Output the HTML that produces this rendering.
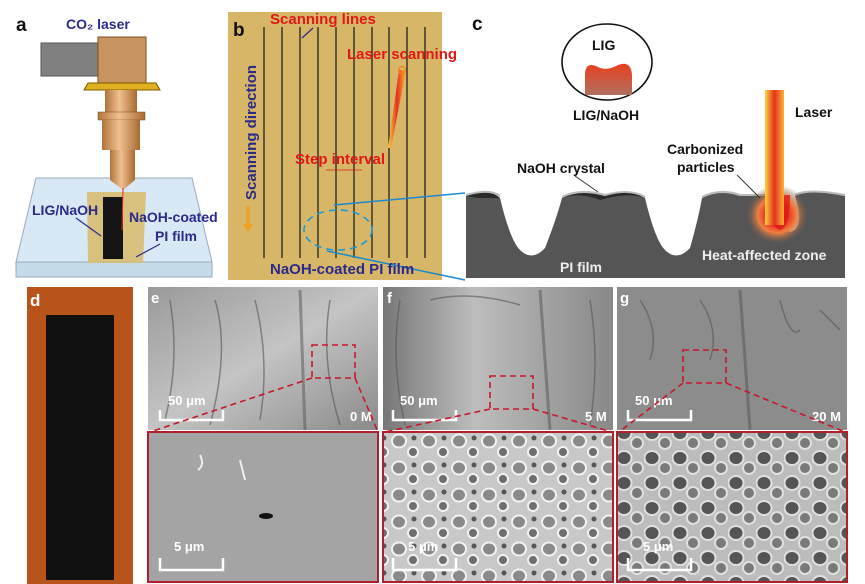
<!DOCTYPE html>
<html><head><meta charset="utf-8"><style>
body{margin:0;background:#fff;}
svg{display:block;font-family:"Liberation Sans",Arial,sans-serif;font-weight:bold}
</style></head><body>
<svg width="865" height="584" viewBox="0 0 865 584" xmlns="http://www.w3.org/2000/svg">
<defs>
<linearGradient id="cu" x1="0" x2="1"><stop offset="0" stop-color="#b0743a"/><stop offset="0.45" stop-color="#f0c090"/><stop offset="1" stop-color="#a86a30"/></linearGradient>
<linearGradient id="beam" x1="0" x2="1"><stop offset="0" stop-color="#ffd23a"/><stop offset="0.5" stop-color="#e3321e"/><stop offset="1" stop-color="#ffb030"/></linearGradient>
<linearGradient id="lig" x1="0" y1="0" x2="0" y2="1"><stop offset="0" stop-color="#e8401e"/><stop offset="1" stop-color="#b07060"/></linearGradient>
<radialGradient id="heat"><stop offset="0.3" stop-color="#e8201a"/><stop offset="0.6" stop-color="#f08040"/><stop offset="1" stop-color="#555" stop-opacity="0"/></radialGradient>
<linearGradient id="sem1" x1="0" y1="0" x2="1" y2="1"><stop offset="0" stop-color="#9a9a9a"/><stop offset="0.5" stop-color="#c4c4c4"/><stop offset="1" stop-color="#8a8a8a"/></linearGradient>
<linearGradient id="sem2" x1="0" y1="0" x2="1" y2="0"><stop offset="0" stop-color="#777"/><stop offset="0.4" stop-color="#bdbdbd"/><stop offset="1" stop-color="#888"/></linearGradient>
<pattern id="pores" width="30" height="27" patternUnits="userSpaceOnUse"><rect width="30" height="27" fill="#c8c8c8"/><ellipse cx="9" cy="9" rx="7" ry="6.5" fill="#8a8a8a" stroke="#f2f2f2" stroke-width="2"/><ellipse cx="23" cy="20" rx="5" ry="5" fill="#6e6e6e" stroke="#f2f2f2" stroke-width="2"/><circle cx="24" cy="6" r="2.5" fill="#555"/></pattern>
<pattern id="pores2" width="28" height="25" patternUnits="userSpaceOnUse"><rect width="28" height="25" fill="#bcbcbc"/><ellipse cx="8" cy="8" rx="7.5" ry="7" fill="#555" stroke="#e0e0e0" stroke-width="2"/><ellipse cx="21" cy="18" rx="6" ry="6" fill="#7a7a7a" stroke="#e0e0e0" stroke-width="2"/></pattern>
</defs>

<!-- panel a -->
<text x="16" y="31" font-size="19" fill="#111">a</text>
<text x="66" y="29" font-size="14" fill="#2a2a8a">CO₂ laser</text>
<polygon points="16,262 36,178 192,178 212,262" fill="#d8e8f4" stroke="#9ab" stroke-width="1"/>
<rect x="16" y="262" width="196" height="15" fill="#c6dbea" stroke="#9ab"/>
<rect x="41" y="43" width="60" height="33" fill="#808080" stroke="#555"/>
<rect x="98" y="37" width="48" height="46" fill="#c89460" stroke="#7a5020"/>
<polygon points="88,83 156,83 160,90 84,90" fill="#e0b020" stroke="#7a5a00"/>
<rect x="105" y="90" width="32" height="25" fill="url(#cu)"/>
<rect x="98" y="112" width="47" height="8" fill="url(#cu)" stroke="#7a4a20" stroke-width="0.5"/>
<rect x="102" y="120" width="38" height="30" fill="url(#cu)"/>
<rect x="110" y="150" width="25" height="30" fill="url(#cu)"/>
<polygon points="110,180 135,180 123,190" fill="url(#cu)"/>
<polygon points="87,192 146,192 143,263 88,263" fill="#d8bd72" opacity="0.9"/>
<rect x="103" y="197" width="20" height="62" fill="#151515"/>
<line x1="123" y1="188" x2="122" y2="230" stroke="#e22" stroke-width="1"/>
<text x="32" y="215" font-size="14" fill="#2a2a8a">LIG/NaOH</text>
<text x="129" y="222" font-size="14" fill="#2a2a8a">NaOH-coated</text>
<text x="155" y="241" font-size="14" fill="#2a2a8a">PI film</text>
<line x1="76" y1="218" x2="101" y2="236" stroke="#2a2a8a" stroke-width="1.2"/>
<line x1="160" y1="244" x2="136" y2="257" stroke="#2a2a8a" stroke-width="1.2"/>

<!-- panel b -->
<rect x="228" y="12" width="214" height="268" fill="#d8b668"/>
<text x="233" y="36" font-size="19" fill="#111">b</text>
<g stroke="#222" stroke-width="1.3">
<line x1="264" y1="27" x2="264" y2="258"/><line x1="282" y1="27" x2="282" y2="258"/><line x1="300" y1="27" x2="300" y2="258"/><line x1="318" y1="27" x2="318" y2="258"/><line x1="336" y1="27" x2="336" y2="258"/><line x1="354" y1="27" x2="354" y2="258"/><line x1="372" y1="27" x2="372" y2="258"/><line x1="389" y1="27" x2="389" y2="258"/><line x1="407" y1="27" x2="407" y2="258"/><line x1="425" y1="27" x2="425" y2="258"/>
</g>
<text x="270" y="24" font-size="15" fill="#e01818">Scanning lines</text>
<line x1="313" y1="28" x2="302" y2="38" stroke="#2a2a8a" stroke-width="1.2"/>
<text x="347" y="59" font-size="15" fill="#e01818">Laser scanning</text>
<polygon points="399,70 406,70 391,148 388,148" fill="url(#beam)"/>
<circle cx="402" cy="70" r="3.5" fill="none" stroke="#f08020" stroke-width="1.2"/>
<text x="295" y="164" font-size="15" fill="#e01818">Step interval</text>
<line x1="326" y1="170" x2="362" y2="170" stroke="#e01818" stroke-width="0.8"/>
<text transform="translate(256,200) rotate(-90)" font-size="15" fill="#2a2a8a">Scanning direction</text>
<line x1="248" y1="206" x2="248" y2="228" stroke="#f0a020" stroke-width="3"/>
<polygon points="243,224 253,224 248,232" fill="#f0a020"/>
<ellipse cx="338" cy="230" rx="34" ry="20" fill="none" stroke="#1a9ad8" stroke-width="1.6" stroke-dasharray="7,5"/>
<line x1="334" y1="205" x2="465" y2="193" stroke="#1a8ad0" stroke-width="1.5"/>
<line x1="327" y1="251" x2="465" y2="280" stroke="#1a8ad0" stroke-width="1.5"/>
<text x="270" y="274" font-size="15" fill="#2a2a8a">NaOH-coated PI film</text>

<!-- panel c -->
<text x="472" y="30" font-size="19" fill="#111">c</text>
<ellipse cx="607" cy="62" rx="45" ry="38" fill="#fff" stroke="#111" stroke-width="1.6"/>
<path d="M585,95 L585,75 Q585,62 596,66 Q606,72 618,65 Q631,60 632,75 L632,95 Z" fill="url(#lig)"/>
<text x="592" y="50" font-size="14" fill="#111">LIG</text>
<text x="573" y="120" font-size="14" fill="#111">LIG/NaOH</text>
<path d="M466,196 Q490,188 500,198 Q510,240 520,250 Q532,262 545,248 Q556,220 562,198 Q580,188 605,196 Q630,188 645,198 Q655,240 665,250 Q677,262 690,248 Q698,220 702,198 Q720,188 740,196 L765,196 Q775,228 790,232 Q805,228 795,196 Q808,188 845,196 L845,278 L466,278 Z" fill="#555555"/>
<path d="M466,196 Q490,188 500,198 L478,198 Z M562,198 Q580,188 605,196 Q630,188 645,198 Q628,192 600,200 Q580,192 562,198Z" fill="#2a2a2a"/>
<path d="M466,195 Q490,188 500,196 M562,197 Q580,188 605,195 Q630,188 645,197 M702,197 Q720,188 740,195 L765,195 M795,195 Q808,188 845,195" stroke="#bbb" stroke-width="2" fill="none"/>
<ellipse cx="777" cy="215" rx="32" ry="30" fill="url(#heat)"/>
<path d="M768,195 Q770,228 780,230 Q790,228 790,195" fill="#e01818" opacity="0.8"/>
<rect x="765" y="90" width="19" height="135" fill="url(#beam)"/>
<text x="795" y="117" font-size="14" fill="#111">Laser</text>
<text x="667" y="154" font-size="14" fill="#111">Carbonized</text>
<text x="677" y="172" font-size="14" fill="#111">particles</text>
<line x1="737" y1="175" x2="760" y2="198" stroke="#333" stroke-width="1"/>
<text x="517" y="173" font-size="14" fill="#111">NaOH crystal</text>
<line x1="575" y1="176" x2="598" y2="192" stroke="#333" stroke-width="1"/>
<text x="702" y="260" font-size="14" fill="#eee">Heat-affected zone</text>
<text x="560" y="272" font-size="14" fill="#eee">PI film</text>

<!-- panel d -->
<rect x="27" y="287" width="106" height="297" fill="#b8531a"/>
<rect x="46" y="315" width="68" height="265" fill="#111"/>
<text x="30" y="306" font-size="17" fill="#fff">d</text>

<!-- SEM top -->
<rect x="148" y="287" width="230" height="143" fill="url(#sem1)"/>
<rect x="383" y="287" width="230" height="143" fill="url(#sem2)"/>
<rect x="617" y="287" width="230" height="143" fill="#8c8c8c"/>
<g stroke="#555" stroke-width="3" opacity="0.5"><line x1="300" y1="290" x2="305" y2="430"/><line x1="540" y1="290" x2="550" y2="430"/><line x1="740" y1="290" x2="750" y2="430"/></g>
<g stroke="#555" stroke-width="1.5" opacity="0.6" fill="none">
<path d="M170,300 Q180,360 165,420 M215,300 Q230,350 210,425 M255,300 Q270,360 260,420 M330,300 Q320,360 340,425"/>
<path d="M400,300 Q390,360 405,425 M590,300 Q600,360 590,425 M430,300 Q470,290 520,305"/>
<path d="M640,300 Q660,330 650,360 M700,300 Q720,330 710,360 M780,300 Q790,340 800,330 M820,310 L840,330"/>
</g>
<g font-size="15" fill="#fff">
<text x="151" y="303">e</text><text x="387" y="303">f</text><text x="620" y="303">g</text>
<text x="168" y="405" font-size="13">50 μm</text><text x="400" y="405" font-size="13">50 μm</text><text x="635" y="405" font-size="13">50 μm</text>
<text x="350" y="421" font-size="13">0 M</text><text x="585" y="421" font-size="13">5 M</text><text x="812" y="421" font-size="13">20 M</text>
</g>
<g stroke="#fff" stroke-width="2.5" fill="none">
<path d="M160,410 V420 H223 V410"/><path d="M393,410 V420 H456 V410"/><path d="M628,410 V420 H691 V410"/>
</g>
<g stroke="#c8182a" stroke-width="1.6" fill="none" stroke-dasharray="6,4">
<rect x="312" y="345" width="43" height="33"/><rect x="490" y="376" width="43" height="33"/><rect x="683" y="350" width="43" height="33"/>
<line x1="312" y1="378" x2="150" y2="432"/><line x1="355" y1="378" x2="378" y2="432"/>
<line x1="490" y1="409" x2="385" y2="432"/><line x1="533" y1="409" x2="612" y2="432"/>
<line x1="683" y1="383" x2="619" y2="432"/><line x1="726" y1="383" x2="845" y2="432"/>
</g>

<!-- SEM bottom -->
<rect x="148" y="432" width="230" height="150" fill="#a4a4a4" stroke="#b0202a" stroke-width="2"/>
<rect x="383" y="432" width="230" height="150" fill="url(#pores)" stroke="#b0202a" stroke-width="2"/>
<rect x="617" y="432" width="230" height="150" fill="url(#pores2)" stroke="#b0202a" stroke-width="2"/>
<ellipse cx="266" cy="516" rx="7" ry="3" fill="#111"/>
<path d="M240,460 L245,480 M200,455 Q205,465 198,470" stroke="#eee" stroke-width="2" fill="none"/>
<g font-size="13" fill="#fff"><text x="174" y="551">5 μm</text><text x="408" y="551">5 μm</text><text x="643" y="551">5 μm</text></g>
<g stroke="#fff" stroke-width="2.5" fill="none">
<path d="M160,558 V570 H223 V558"/><path d="M393,558 V570 H456 V558"/><path d="M628,558 V570 H691 V558"/>
</g>
</svg>
</body></html>
